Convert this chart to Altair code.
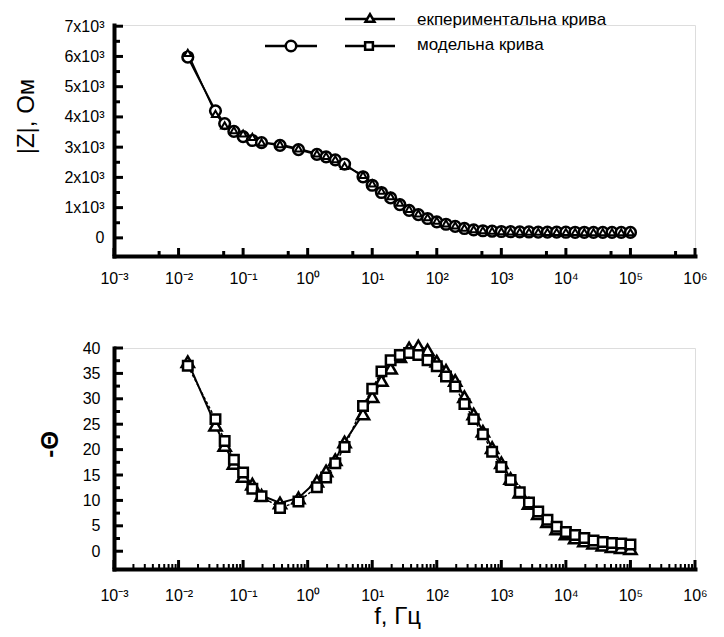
import altair as alt
import pandas as pd

# ---------------- data ----------------
freq = [0.0139, 0.0373, 0.0518, 0.0720, 0.100, 0.139, 0.193, 0.373, 0.720,
        1.39, 1.93, 2.68, 3.73, 7.20, 10.0, 13.9, 19.3, 26.8, 37.3, 51.8, 72.0,
        100, 139, 193, 268, 373, 518, 720, 1000, 1390, 1930, 2680, 3730, 5180,
        7200, 10000, 13900, 19300, 26800, 37300, 51800, 72000, 100000]

z_model = [5980, 4200, 3780, 3520, 3350, 3220, 3150, 3060, 2920, 2760, 2680, 2580, 2440,
           2020, 1740, 1500, 1320, 1100, 910, 770, 640, 530, 450, 380, 310, 265, 235,
           220, 210, 203, 198, 195, 192, 190, 188, 186, 185, 184, 183, 182, 181, 180, 180]
z_exp = [6120, 4100, 3720, 3560, 3450, 3340, 3160, 3100, 2960, 2790, 2710, 2600, 2380,
         2080, 1800, 1560, 1380, 1160, 960, 810, 680, 570, 480, 410, 340, 290, 255,
         235, 222, 214, 208, 204, 200, 198, 196, 194, 192, 191, 190, 189, 188, 187, 186]

theta_model = [36.5, 26.0, 21.7, 18.0, 15.5, 12.3, 10.8, 8.5, 9.8, 12.6, 14.5, 17.3, 20.5,
               28.6, 32.0, 35.4, 37.6, 38.6, 39.0, 38.6, 37.6, 36.4, 34.4, 32.4, 29.0, 26.0,
               23.0, 19.6, 16.6, 14.0, 11.6, 9.6, 7.8, 6.2, 4.8, 3.8, 3.2, 2.6, 2.1, 1.8,
               1.6, 1.5, 1.3]
theta_exp = [37.3, 24.8, 20.8, 17.3, 14.7, 13.2, 11.0, 9.5, 10.5, 13.8, 15.8, 18.0, 21.5,
             27.0, 30.4, 33.6, 36.0, 38.3, 40.0, 40.4, 39.6, 37.4, 35.6, 33.6, 30.4, 27.0,
             23.6, 20.4, 17.4, 14.3, 11.6, 9.4, 7.4, 5.8, 4.4, 3.4, 2.6, 2.0, 1.6, 1.2,
             0.9, 0.7, 0.5]

x_decades = [1e-3, 1e-2, 1e-1, 1, 10, 100, 1e3, 1e4, 1e5, 1e6]
x_labels = ["10⁻³", "10⁻²", "10⁻¹", "10⁰", "10¹", "10²", "10³", "10⁴", "10⁵", "10⁶"]
top_minor_x = [5e-3, 5e-2, 5e-1, 5, 50, 500, 5e3, 5e4, 5e5]
bottom_minor_x = [m * d for d in x_decades[:-1] for m in range(2, 10)]

z_major = [0, 1000, 2000, 3000, 4000, 5000, 6000, 7000]
z_minor = [500, 1500, 2500, 3500, 4500, 5500, 6500]
th_major = [0, 5, 10, 15, 20, 25, 30, 35, 40]
th_minor = [2.5, 7.5, 12.5, 17.5, 22.5, 27.5, 32.5, 37.5]

legend_labels = ["екпериментальна крива", "модельна крива"]

# ---------------- layout / style ----------------
FONT = "Liberation Sans"
W = 581
H1 = 231
H2 = 221

df = pd.DataFrame({"f": freq, "zm": z_model, "ze": z_exp, "tm": theta_model, "te": theta_exp})

xscale = alt.Scale(type="log", domain=[1e-3, 1e6], nice=False)
label_expr = "[" + ",".join(f"'{l}'" for l in x_labels) + "][round(log(datum.value)/LN10)+3]"

x_axis_top = alt.Axis(values=x_decades, labelExpr=label_expr, labelPadding=14, title=None,
                      labelFlush=False, labelOverlap=False)
x_axis_bot = alt.Axis(values=x_decades, labelExpr=label_expr, labelPadding=18,
                      title="f, Гц", titleX=283, titleY=47, titleAlign="center",
                      titleBaseline="middle", labelFlush=False, labelOverlap=False)

zscale = alt.Scale(domain=[-600, 7040], nice=False, zero=False)
z_axis = alt.Axis(values=z_major,
                  labelExpr="datum.value == 0 ? '0' : (datum.value/1000) + 'x10³'",
                  labelPadding=10, title="|Z|, Ом", titleX=-88, titleY=91,
                  titleAlign="center", titleBaseline="middle", titleAngle=270)

tscale = alt.Scale(domain=[-3.5, 40], nice=False, zero=False)
t_axis = alt.Axis(values=th_major, labelPadding=14, title="-Θ", titleFontWeight="bold",
                  titleX=-64, titleY=96, titleAlign="center", titleBaseline="middle",
                  titleAngle=270)


def X(field, axis):
    return alt.X(f"{field}:Q", scale=xscale, axis=axis)


def tick_x(values, axis, length, height, width=3):
    d = pd.DataFrame({"f": values})
    return alt.Chart(d).mark_rule(color="black", strokeWidth=width).encode(
        x=X("f", axis), y=alt.value(height), y2=alt.value(height - length))


def tick_y(values, field, scale, axis, length, width=3):
    d = pd.DataFrame({field: values})
    return alt.Chart(d).mark_rule(color="black", strokeWidth=width).encode(
        y=alt.Y(f"{field}:Q", scale=scale, axis=axis), x=alt.value(0), x2=alt.value(length))


# ---------------- top panel: |Z| ----------------
def Yz(field):
    return alt.Y(f"{field}:Q", scale=zscale, axis=z_axis)


base_top = alt.Chart(df)
line_m = base_top.mark_line(color="black", strokeWidth=2).encode(x=X("f", x_axis_top), y=Yz("zm"))
line_e = base_top.mark_line(color="black", strokeWidth=1.5).encode(x=X("f", x_axis_top), y=Yz("ze"))
circ = base_top.mark_point(shape="circle", filled=True, fill="white", stroke="black",
                           strokeWidth=2.5, size=115, opacity=1).encode(
    x=X("f", x_axis_top), y=Yz("zm"))
tri_top = base_top.mark_point(shape="triangle-up", filled=True, fill="white", stroke="black",
                              strokeWidth=2, size=50, opacity=1).encode(
    x=X("f", x_axis_top), y=Yz("ze"))

one = pd.DataFrame({"k": [0]})
leg = [
    alt.Chart(one).mark_rule(color="black", strokeWidth=2.5).encode(
        x=alt.value(231), x2=alt.value(281), y=alt.value(-6)),
    alt.Chart(one).mark_point(shape="triangle-up", filled=True, fill="white", stroke="black",
                              strokeWidth=2.5, size=80, opacity=1).encode(
        x=alt.value(256), y=alt.value(-7)),
    alt.Chart(one).mark_rule(color="black", strokeWidth=2.5).encode(
        x=alt.value(151), x2=alt.value(203), y=alt.value(21)),
    alt.Chart(one).mark_point(shape="circle", filled=True, fill="white", stroke="black",
                              strokeWidth=2.5, size=110, opacity=1).encode(
        x=alt.value(177), y=alt.value(21)),
    alt.Chart(one).mark_rule(color="black", strokeWidth=2.5).encode(
        x=alt.value(231), x2=alt.value(281), y=alt.value(21)),
    alt.Chart(one).mark_point(shape="square", filled=True, fill="white", stroke="black",
                              strokeWidth=2.5, size=60, opacity=1).encode(
        x=alt.value(255), y=alt.value(21)),
    alt.Chart(pd.DataFrame({"t": [legend_labels[0]]})).mark_text(
        align="left", baseline="middle", font=FONT, fontSize=17, color="black").encode(
        x=alt.value(303), y=alt.value(-5), text="t:N"),
    alt.Chart(pd.DataFrame({"t": [legend_labels[1]]})).mark_text(
        align="left", baseline="middle", font=FONT, fontSize=17, color="black").encode(
        x=alt.value(303), y=alt.value(20), text="t:N"),
]

top = alt.layer(
    line_m, line_e,
    tick_x(x_decades, x_axis_top, 8, H1),
    tick_x(top_minor_x, x_axis_top, 5, H1),
    tick_y(z_major, "zm", zscale, z_axis, 9),
    tick_y(z_minor, "zm", zscale, z_axis, 6),
    circ, tri_top, *leg
).properties(width=W, height=H1)


# ---------------- bottom panel: -theta ----------------
def Yt(field):
    return alt.Y(f"{field}:Q", scale=tscale, axis=t_axis)


base_bot = alt.Chart(df)
bline_e = base_bot.mark_line(color="black", strokeWidth=2).encode(x=X("f", x_axis_bot), y=Yt("te"))
bline_m = base_bot.mark_line(color="black", strokeWidth=1.5, strokeDash=[3, 2]).encode(
    x=X("f", x_axis_bot), y=Yt("tm"))
tri_bot = base_bot.mark_point(shape="triangle-up", filled=True, fill="white", stroke="black",
                              strokeWidth=2.5, size=150, opacity=1).encode(
    x=X("f", x_axis_bot), y=Yt("te"))
sq_bot = base_bot.mark_point(shape="square", filled=True, fill="white", stroke="black",
                             strokeWidth=2.5, size=90, opacity=1).encode(
    x=X("f", x_axis_bot), y=Yt("tm"))

bottom = alt.layer(
    bline_e, bline_m,
    tick_x(x_decades, x_axis_bot, 9, H2),
    tick_x(bottom_minor_x, x_axis_bot, 5, H2, width=2),
    tick_y(th_major, "te", tscale, t_axis, 9),
    tick_y(th_minor, "te", tscale, t_axis, 6),
    tri_bot, sq_bot
).properties(width=W, height=H2)

chart = alt.vconcat(top, bottom, spacing=48).properties(
    padding={"left": 5, "top": 0, "right": 5, "bottom": 0}
).configure_view(strokeWidth=0).configure(background="white").configure_axis(
    domainWidth=4, domainColor="black", domainCap="square",
    ticks=False, tickSize=0, grid=False,
    labelFont=FONT, labelFontSize=16, labelColor="black",
    titleFont=FONT, titleFontSize=24, titleFontWeight="normal", titleColor="black"
)

chart.save("out.html", embed_options={"renderer": "svg", "actions": False})
